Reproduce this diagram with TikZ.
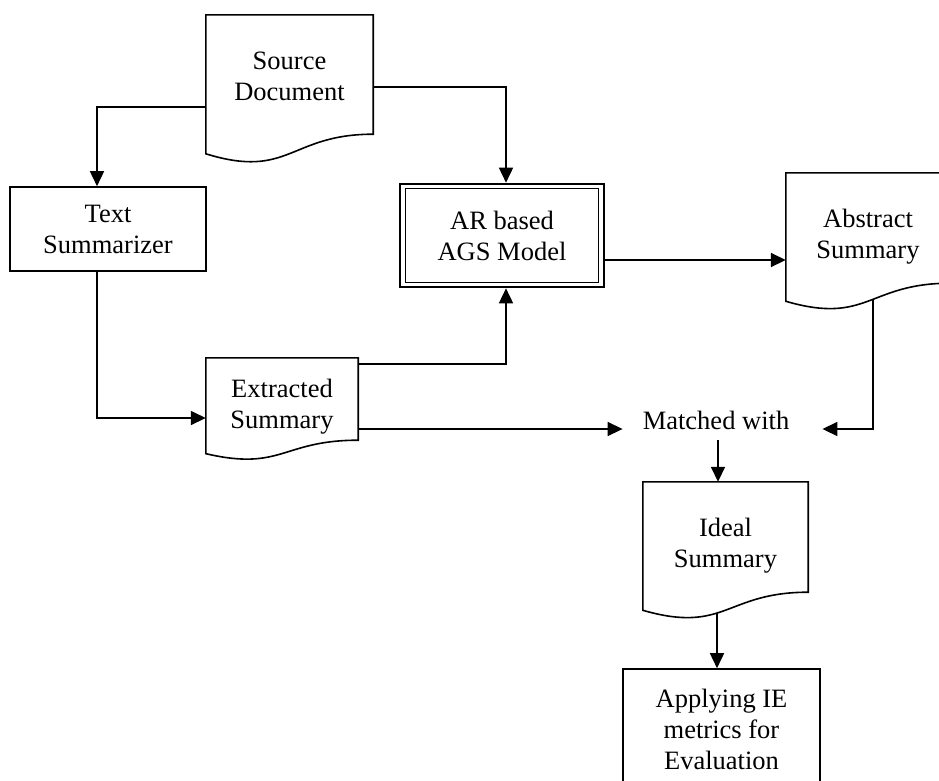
\documentclass[tikz,border=0pt]{standalone}
\usepackage{fontspec}
\setmainfont{Liberation Serif}
\usetikzlibrary{arrows.meta,calc}
\newcommand\mydoc[2]{\draw[ln] (#1.south east) -- (#1.north east) -- (#1.north west) -- ($(#1.south west)+(0,0.132*#2)$) .. controls ($(#1.south)+(0,0.306*#2)$) and (#1.south) .. (#1.south east) -- cycle;}
\begin{document}
\begin{tikzpicture}[x=1pt,y=-1pt,
  ln/.style={line width=1.6pt},
  arr/.style={ln,-{Triangle[length=15pt,width=14pt]}},
  txt/.style={font=\fontsize{26.5}{31}\selectfont, align=center, inner sep=0pt},
  boxnode/.style={txt, draw, ln}]
\useasboundingbox (0,0) rectangle (939,780);
\clip (0,0) rectangle (939,780);

\node[txt, minimum width=167pt, minimum height=119pt] (src) at (289.5,74.5) {};
\node[txt] (srct) at ([yshift=-2pt]src.center) {Source\\Document};
\node[boxnode, minimum width=196pt, minimum height=84pt] (ts) at (108,229) {Text\\Summarizer};
\node[boxnode, line width=2.6pt, minimum width=204pt, minimum height=103pt] (ar) at (502,235.5) {AR based\\AGS Model};
\node[txt, minimum width=152pt, minimum height=82pt] (ext) at (282,399) {};
\node[txt] (extt) at ([yshift=-7.5pt]ext.center) {Extracted\\Summary};
\node[txt, minimum width=164pt, minimum height=110pt] (abs) at (868,228) {};
\node[txt] (abst) at ([yshift=-9pt]abs.center) {Abstract\\Summary};
\node[txt, minimum width=165pt, minimum height=110pt] (ideal) at (725.5,537) {};
\node[txt] (idealt) at ([yshift=-9pt]ideal.center) {Ideal\\Summary};
\node[boxnode, minimum width=197pt, minimum height=120pt] (app) at (721.5,729) {Applying IE\\metrics for\\Evaluation};
\node[txt, anchor=base] (mw) at (716,429) {Matched with};

\draw[line width=1.4pt] ([shift={(7pt,-6pt)}]ar.north west) rectangle ([shift={(-7pt,6pt)}]ar.south east);

\mydoc{src}{148.4}
\mydoc{ext}{102}
\mydoc{abs}{137}
\mydoc{ideal}{137}

\coordinate (c1) at ([yshift=-24.5pt]ar.east);
\coordinate (c2) at ([xshift=2pt,yshift=-11pt]mw.base);
\coordinate (c3) at ([xshift=-8.5pt,yshift=-21pt]ideal.south);

\draw[arr] ([yshift=-32.5pt]src.west) -| ([xshift=-11pt]ts.north);
\draw[arr] ([yshift=-12.5pt]src.east) -| ([xshift=4pt]ar.north);
\draw[arr] ([xshift=-11pt]ts.south) |- ([yshift=-19pt]ext.west);
\draw[arr] ([yshift=35pt]ext.east) -| ([xshift=4pt]ar.south);
\draw[arr] ([yshift=-30pt]ext.east) -- ([xshift=-20pt]mw.base west);
\draw[arr] (c1) -- (c1 -| abs.west);
\draw[arr] ([xshift=5pt,yshift=-16pt]abs.south) |- ([xshift=33pt]mw.base east);
\draw[arr] (c2) -- (c2 |- ideal.north);
\draw[arr] (c3) -- (c3 |- app.north);
\end{tikzpicture}
\end{document}
